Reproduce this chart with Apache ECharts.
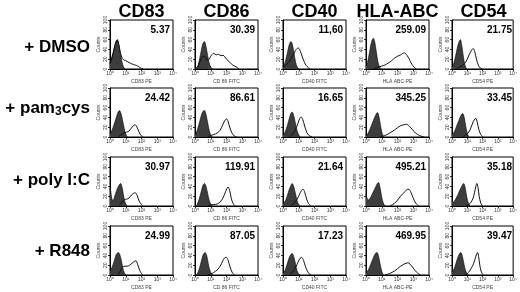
<!DOCTYPE html>
<html>
<head>
<meta charset="utf-8">
<script src="https://cdn.jsdelivr.net/npm/echarts@6/dist/echarts.min.js"></script>
<style>
html, body { margin: 0; padding: 0; background: #fff; }
#chart { width: 520px; height: 292px; }
</style>
</head>
<body>
<div id="chart"></div>
<script>
var markers = ['CD83', 'CD86', 'CD40', 'HLA-ABC', 'CD54'];
var channels = ['CD83 PE', 'CD 86 FITC', 'CD40 FITC', 'HLA ABC-PE', 'CD54 PE'];
var treatments = ['+ DMSO', '+ pam3cys', '+ poly I:C', '+ R848'];
var xTickLabels = ['10⁰', '10¹', '10²', '10³', '10⁴'];

// MFI values printed in each panel (row = treatment, col = marker)
var mfiDMSO = ['5.37', '30.39', '11,60', '259.09', '21.75'];
var mfiPam = ['24.42', '86.61', '16.65', '345.25', '33.45'];
var mfiPoly = ['30.97', '119.91', '21.64', '495.21', '35.18'];
var mfiR848 = ['24.99', '87.05', '17.23', '469.95', '39.47'];

// histograms: [log decade, counts]; ctrl = isotype (filled), stain = antibody (open)
var ctrlDMSO = [
    [[0,12],[0.1,22],[0.2,34],[0.3,48],[0.4,58],[0.47,60],[0.55,52],[0.65,34],[0.75,16],[0.85,5],[0.95,0]],
    [[0.1,0],[0.2,8],[0.3,22],[0.4,38],[0.5,52],[0.6,56],[0.7,46],[0.8,28],[0.9,12],[1.0,4],[1.1,0]],
    [[0,4],[0.1,10],[0.2,22],[0.3,36],[0.4,50],[0.5,56],[0.6,50],[0.7,32],[0.8,14],[0.9,4],[1.0,0]],
    [[0,6],[0.1,14],[0.2,30],[0.3,48],[0.4,60],[0.47,63],[0.55,56],[0.65,36],[0.75,16],[0.85,5],[0.95,0]],
    [[0,4],[0.1,10],[0.2,22],[0.3,36],[0.4,50],[0.5,58],[0.55,60],[0.65,46],[0.75,24],[0.85,8],[0.95,0]]
];
var stainDMSO = [
    [[0,10],[0.1,20],[0.2,32],[0.3,46],[0.4,56],[0.47,58],[0.55,50],[0.65,34],[0.75,24],[0.86,19],[1.0,17],[1.28,12],[1.5,9],[1.7,7],[1.9,3],[2.1,0]],
    [[0,6],[0.1,3],[0.2,6],[0.3,14],[0.4,22],[0.5,26],[0.6,26],[0.7,22],[0.8,18],[0.9,20],[1.0,26],[1.18,32],[1.35,29],[1.5,30],[1.65,27],[1.78,28],[2.0,20],[2.2,14],[2.4,8],[2.63,4],[2.8,0]],
    [[0,2],[0.2,8],[0.4,16],[0.6,26],[0.7,32],[0.8,38],[0.9,42],[0.97,43],[1.05,40],[1.15,32],[1.3,18],[1.45,8],[1.6,3],[1.75,0]],
    [[0.4,0],[0.6,2],[0.8,4],[1.0,6],[1.2,8],[1.4,12],[1.6,16],[1.8,22],[2.0,26],[2.2,29],[2.44,33],[2.6,28],[2.75,20],[2.9,10],[3.05,4],[3.2,0]],
    [[0.3,0],[0.5,4],[0.7,8],[0.9,14],[1.05,24],[1.2,34],[1.32,40],[1.39,42],[1.48,36],[1.6,20],[1.72,8],[1.85,2],[2.0,0]]
];
var ctrlPam = [
    [[0,6],[0.1,12],[0.2,20],[0.3,30],[0.4,40],[0.5,50],[0.6,54],[0.7,48],[0.8,34],[0.9,18],[1.0,6],[1.1,0]],
    [[0,4],[0.1,10],[0.2,20],[0.3,32],[0.4,44],[0.5,52],[0.6,54],[0.7,46],[0.8,30],[0.9,14],[1.0,4],[1.1,0]],
    [[0,4],[0.1,8],[0.2,16],[0.3,26],[0.4,38],[0.5,48],[0.58,51],[0.68,44],[0.8,26],[0.9,12],[1.0,4],[1.1,0]],
    [[0,2],[0.1,6],[0.2,12],[0.3,20],[0.4,28],[0.5,36],[0.6,44],[0.73,50],[0.82,42],[0.92,24],[1.02,8],[1.12,0]],
    [[0,4],[0.1,8],[0.2,14],[0.3,22],[0.4,30],[0.5,38],[0.6,45],[0.7,48],[0.8,40],[0.9,22],[1.0,8],[1.1,0]]
];
var stainPam = [
    [[0.5,0],[0.7,4],[0.9,8],[1.05,10],[1.2,12],[1.35,18],[1.48,23],[1.59,25],[1.7,21],[1.82,12],[1.95,4],[2.1,0]],
    [[0.8,0],[1.0,3],[1.2,5],[1.4,8],[1.6,14],[1.75,24],[1.88,33],[2.0,37],[2.1,32],[2.2,20],[2.35,8],[2.5,2],[2.65,0]],
    [[0.4,0],[0.6,6],[0.8,16],[0.95,28],[1.05,37],[1.15,41],[1.25,36],[1.38,22],[1.5,10],[1.65,3],[1.85,0]],
    [[0.9,0],[1.2,3],[1.5,8],[1.8,14],[2.0,19],[2.2,23],[2.4,25],[2.57,26],[2.75,22],[2.95,15],[3.15,8],[3.4,3],[3.7,0]],
    [[0.7,0],[0.9,4],[1.1,10],[1.25,20],[1.4,32],[1.5,37],[1.56,38],[1.65,30],[1.75,16],[1.88,5],[2.05,0]]
];
var ctrlPoly = [
    [[0,34],[0.05,30],[0.12,14],[0.2,12],[0.3,20],[0.4,30],[0.5,38],[0.6,44],[0.68,46],[0.78,36],[0.88,18],[0.98,6],[1.08,0]],
    [[0.1,0],[0.2,8],[0.3,18],[0.4,30],[0.5,42],[0.6,46],[0.7,40],[0.8,26],[0.9,12],[1.0,4],[1.1,0]],
    [[0,4],[0.1,8],[0.2,14],[0.3,24],[0.4,34],[0.5,42],[0.58,46],[0.68,40],[0.8,24],[0.9,10],[1.0,3],[1.1,0]],
    [[0,24],[0.05,18],[0.15,12],[0.3,18],[0.45,28],[0.6,38],[0.72,46],[0.8,48],[0.9,36],[1.0,18],[1.1,6],[1.2,0]],
    [[0,10],[0.1,8],[0.2,12],[0.3,18],[0.4,24],[0.5,32],[0.6,38],[0.7,44],[0.77,46],[0.87,36],[0.97,18],[1.07,6],[1.17,0]]
];
var stainPoly = [
    [[0.6,0],[0.75,8],[0.9,13],[1.05,14],[1.2,16],[1.35,22],[1.5,26],[1.6,27],[1.72,22],[1.85,10],[2.0,3],[2.1,0]],
    [[0.8,0],[0.95,2],[1.2,3],[1.4,4],[1.6,8],[1.8,18],[1.95,30],[2.1,39],[2.2,32],[2.3,16],[2.42,5],[2.55,0]],
    [[0.5,0],[0.7,6],[0.9,14],[1.05,24],[1.18,32],[1.28,34],[1.38,28],[1.5,14],[1.62,5],[1.78,0]],
    [[1.5,0],[1.7,3],[1.9,8],[2.1,16],[2.3,24],[2.5,30],[2.62,34],[2.72,34],[2.85,28],[3.0,16],[3.15,6],[3.35,0]],
    [[0.9,0],[1.1,3],[1.25,8],[1.38,16],[1.48,28],[1.56,40],[1.62,46],[1.7,38],[1.78,20],[1.88,6],[2.0,0]]
];
var ctrlR848 = [
    [[0,8],[0.1,14],[0.2,22],[0.3,32],[0.4,42],[0.53,46],[0.62,42],[0.72,30],[0.82,14],[0.92,4],[1.02,0]],
    [[0.1,0],[0.2,6],[0.3,16],[0.4,28],[0.5,40],[0.64,46],[0.74,40],[0.84,24],[0.94,10],[1.04,3],[1.14,0]],
    [[0,4],[0.1,8],[0.2,16],[0.3,26],[0.4,36],[0.5,42],[0.58,44],[0.68,38],[0.8,22],[0.9,8],[1.0,2],[1.1,0]],
    [[0,4],[0.1,8],[0.2,14],[0.3,22],[0.4,30],[0.5,38],[0.6,44],[0.7,46],[0.8,38],[0.9,22],[1.0,8],[1.1,0]],
    [[0,6],[0.1,10],[0.2,18],[0.3,28],[0.4,38],[0.5,44],[0.58,46],[0.68,38],[0.8,20],[0.9,8],[1.0,2],[1.1,0]]
];
var stainR848 = [
    [[0.5,0],[0.65,8],[0.8,16],[0.95,18],[1.1,18],[1.25,20],[1.4,24],[1.55,28],[1.65,29],[1.75,22],[1.88,10],[2.0,3],[2.1,0]],
    [[0.8,0],[1.0,2],[1.18,5],[1.4,10],[1.6,18],[1.75,28],[1.88,35],[1.99,36],[2.1,30],[2.22,17],[2.35,6],[2.5,0]],
    [[0.4,0],[0.6,6],[0.8,16],[0.95,26],[1.08,34],[1.18,36],[1.3,30],[1.42,18],[1.55,8],[1.68,2],[1.8,0]],
    [[1.2,0],[1.5,3],[1.8,8],[2.0,13],[2.2,18],[2.4,22],[2.55,24],[2.67,25],[2.8,22],[3.0,14],[3.2,6],[3.45,0]],
    [[0.8,0],[1.0,3],[1.15,8],[1.3,16],[1.42,24],[1.52,34],[1.6,42],[1.67,46],[1.74,38],[1.82,20],[1.92,6],[2.05,0]]
];

var ctrlRows = [ctrlDMSO, ctrlPam, ctrlPoly, ctrlR848];
var stainRows = [stainDMSO, stainPam, stainPoly, stainR848];
var mfiRows = [mfiDMSO, mfiPam, mfiPoly, mfiR848];

var colLeft = [110, 195, 283, 366, 452];
var rowTop = [20, 88, 157, 226];
var panelW = 63, panelH = 49;
var fontFam = '"Liberation Sans", Arial, sans-serif';

var grids = [], xAxes = [], yAxes = [], series = [], graphics = [];

for (var r = 0; r < rowTop.length; r++) {
    for (var c = 0; c < colLeft.length; c++) {
        var idx = grids.length;
        grids.push({
            left: colLeft[c], top: rowTop[r], width: panelW, height: panelH,
            show: true, borderColor: '#000', borderWidth: 1, backgroundColor: 'transparent'
        });
        xAxes.push({
            gridIndex: idx, type: 'value', min: 0, max: 4, interval: 1,
            name: channels[c], nameLocation: 'middle', nameGap: 10,
            nameTextStyle: { fontSize: 5, color: '#444', fontFamily: fontFam },
            axisLine: { show: true, lineStyle: { color: '#000', width: 1 } },
            axisTick: { show: true, length: 2, lineStyle: { color: '#000', width: 0.8 } },
            axisLabel: {
                fontSize: 5, margin: 2, color: '#333', fontFamily: fontFam,
                formatter: function (v) { return xTickLabels[v]; }
            },
            splitLine: { show: false }
        });
        yAxes.push({
            gridIndex: idx, type: 'value', min: 0, max: 100, interval: 20,
            name: 'Counts', nameLocation: 'middle', nameGap: 9, nameRotate: 90,
            nameTextStyle: { fontSize: 5, color: '#444', fontFamily: fontFam },
            axisLine: { show: true, lineStyle: { color: '#000', width: 1 } },
            axisTick: { show: true, length: 2, lineStyle: { color: '#000', width: 0.8 } },
            axisLabel: { fontSize: 5, margin: 2, rotate: 90, color: '#333', fontFamily: fontFam },
            splitLine: { show: false }
        });
        series.push({
            type: 'line', xAxisIndex: idx, yAxisIndex: idx,
            data: ctrlRows[r][c], smooth: 0.3, showSymbol: false, silent: true, z: 2,
            lineStyle: { color: '#000', width: 0.6 },
            areaStyle: { color: '#3d3d3d', opacity: 1 }
        });
        series.push({
            type: 'line', xAxisIndex: idx, yAxisIndex: idx,
            data: stainRows[r][c], smooth: 0.3, showSymbol: false, silent: true, z: 3,
            lineStyle: { color: '#111', width: 1 }
        });
        graphics.push({
            type: 'text', right: 520 - colLeft[c] - panelW + 3, top: rowTop[r] + 5, z: 10,
            style: { text: mfiRows[r][c], font: 'bold 10px ' + fontFam, fill: '#000' }
        });
    }
}

// column headers
for (var i = 0; i < markers.length; i++) {
    graphics.push({
        type: 'text', x: colLeft[i] + panelW / 2, y: 12,
        style: {
            text: markers[i], font: 'bold 18px ' + fontFam, fill: '#000',
            textAlign: 'center', textVerticalAlign: 'middle'
        }
    });
}

// row labels
var rowLabelY = [47, 108, 180, 251];
for (var j = 0; j < treatments.length; j++) {
    var txt = treatments[j];
    var style = {
        text: txt, font: 'bold 17px ' + fontFam, fill: '#000',
        textAlign: 'right', textVerticalAlign: 'middle'
    };
    if (txt.indexOf('pam3') >= 0) {
        var parts = txt.split('3');
        style.text = '{n|' + parts[0] + '}{s|3}{n|' + parts[1] + '}';
        style.rich = {
            n: { font: 'bold 17px ' + fontFam, fill: '#000' },
            s: { font: 'bold 12px ' + fontFam, fill: '#000', padding: [8, 0, 0, 0] }
        };
    }
    graphics.push({ type: 'text', x: 90, y: rowLabelY[j], style: style });
}

var myChart = echarts.init(document.getElementById('chart'), null, { renderer: 'canvas' });
myChart.setOption({
    animation: false,
    backgroundColor: '#fff',
    grid: grids,
    xAxis: xAxes,
    yAxis: yAxes,
    series: series,
    graphic: graphics
});
</script>
</body>
</html>
